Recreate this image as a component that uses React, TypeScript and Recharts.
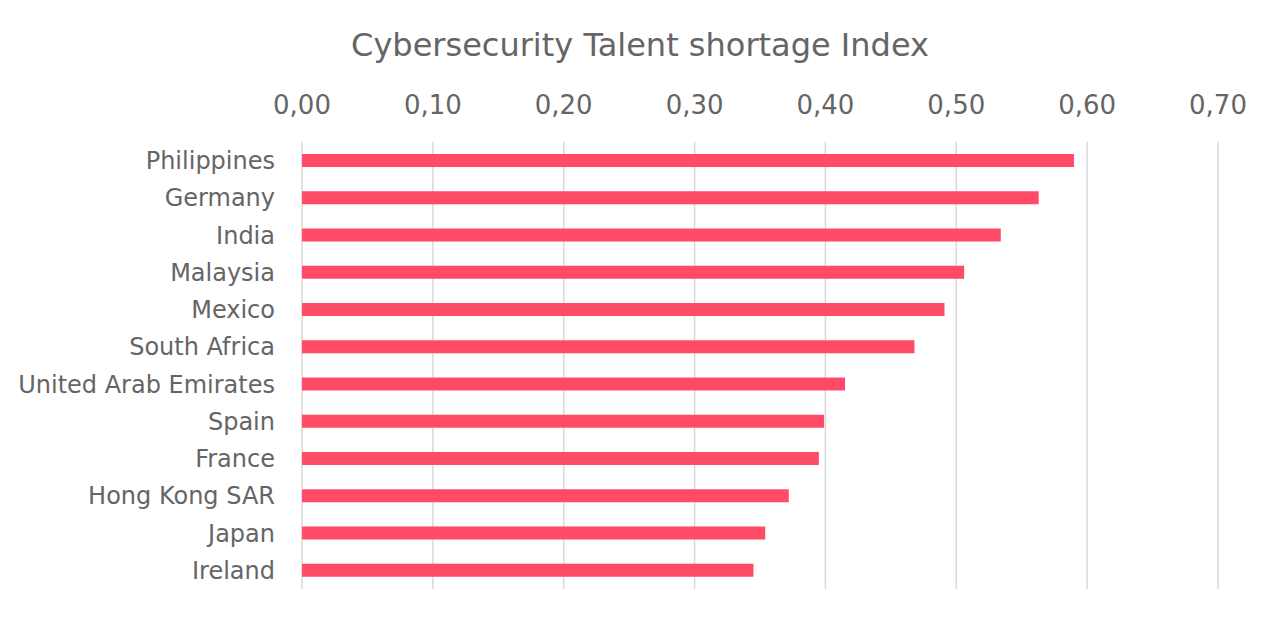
import React from "react";
import { BarChart, Bar, XAxis, YAxis, CartesianGrid } from "recharts";

const countries = [
  "Philippines",
  "Germany",
  "India",
  "Malaysia",
  "Mexico",
  "South Africa",
  "United Arab Emirates",
  "Spain",
  "France",
  "Hong Kong SAR",
  "Japan",
  "Ireland",
];
const indexValues = [0.59, 0.563, 0.534, 0.506, 0.491, 0.468, 0.415, 0.399, 0.395, 0.372, 0.354, 0.345];
const xTicks = [0, 0.1, 0.2, 0.3, 0.4, 0.5, 0.6, 0.7];
const title = "Cybersecurity Talent shortage Index";

const data = countries.map((c, i) => ({ country: c, value: indexValues[i] }));

const FONT = "'DejaVu Sans', 'Open Sans', sans-serif";
const TEXT = "#656565";

export default function App() {
  return (
    <div style={{ position: "absolute", left: 0, top: 0, width: 1280, height: 622, background: "#fff", fontFamily: FONT }}>
      <div
        style={{
          position: "absolute",
          left: 0,
          top: 23,
          width: 1280,
          textAlign: "center",
          fontSize: 32,
          color: TEXT,
          lineHeight: "44px",
        }}
      >
        {title}
      </div>
      <BarChart
        width={1280}
        height={622}
        data={data}
        layout="vertical"
        margin={{ top: 102, right: 62, bottom: 33, left: 0 }}
        style={{ position: "absolute", left: 0, top: 0 }}
      >
        <CartesianGrid horizontal={false} vertical={true} stroke="#d9d9d9" strokeWidth={1.5} />
        <XAxis
          type="number"
          orientation="top"
          domain={[0, 0.7]}
          ticks={xTicks}
          height={40}
          axisLine={false}
          tickLine={false}
          tickSize={0}
          tickMargin={28}
          interval={0}
          tickFormatter={(v: number) => v.toFixed(2).replace(".", ",")}
          tick={{ fill: TEXT, fontSize: 26, fontFamily: FONT }}
        />
        <YAxis
          type="category"
          dataKey="country"
          width={302}
          axisLine={false}
          tickLine={false}
          tickSize={0}
          tickMargin={27}
          interval={0}
          tick={{ fill: TEXT, fontSize: 24, fontFamily: FONT }}
        />
        <Bar dataKey="value" fill="#FF4B66" barSize={13} isAnimationActive={false} />
      </BarChart>
    </div>
  );
}
